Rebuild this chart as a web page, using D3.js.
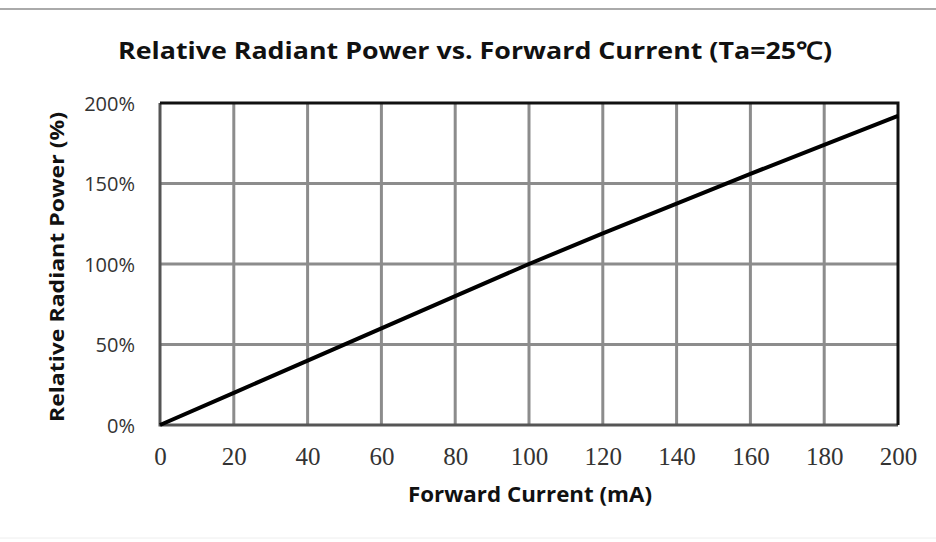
<!DOCTYPE html>
<html>
<head>
<meta charset="utf-8">
<script src="https://cdn.jsdelivr.net/npm/d3@7"></script>
<style>
  body { margin: 0; background: #fff; }
  svg { display: block; }
</style>
</head>
<body>
<div id="chart"></div>
<script>
// values
const currents = [0, 20, 40, 60, 80, 100, 120, 140, 160, 180, 200];
const power = [0, 20, 40, 60, 80, 100, 119, 137.5, 156, 174, 192];
const xTicks = [0, 20, 40, 60, 80, 100, 120, 140, 160, 180, 200];
const yTicks = [0, 50, 100, 150, 200];

const width = 936, height = 542;
const margin = {top: 103, right: 38, bottom: 117, left: 160};

const svg = d3.select('#chart').append('svg')
  .attr('width', width)
  .attr('height', height);

// thin separator lines at top and bottom of the picture
svg.append('line')
  .attr('x1', 0).attr('x2', width).attr('y1', 9).attr('y2', 9)
  .attr('stroke', '#aaa').attr('stroke-width', 2);
svg.append('line')
  .attr('x1', 0).attr('x2', width).attr('y1', 538).attr('y2', 538)
  .attr('stroke', '#eee').attr('stroke-width', 1);

const x = d3.scaleLinear().domain([0, 200]).range([margin.left, width - margin.right]);
const y = d3.scaleLinear().domain([0, 200]).range([height - margin.bottom, margin.top]);

// grid
const grid = svg.append('g').attr('stroke', '#8c8c8c').attr('stroke-width', 3);
grid.selectAll('.vx').data(xTicks.slice(1, -1)).join('line')
  .attr('x1', d => x(d)).attr('x2', d => x(d))
  .attr('y1', y(0)).attr('y2', y(200));
grid.selectAll('.hy').data(yTicks.slice(1, -1)).join('line')
  .attr('x1', x(0)).attr('x2', x(200))
  .attr('y1', d => y(d)).attr('y2', d => y(d));

// frame: left/bottom dark grey, top/right black
svg.append('path')
  .attr('d', `M${x(0)},${y(200)}V${y(0)}H${x(200)}`)
  .attr('fill', 'none').attr('stroke', '#555').attr('stroke-width', 3);
svg.append('path')
  .attr('d', `M${x(0)},${y(200)}H${x(200)}V${y(0)}`)
  .attr('fill', 'none').attr('stroke', '#111').attr('stroke-width', 3);

// axes (labels only)
const xAxis = svg.append('g')
  .attr('transform', `translate(0,${y(0)})`)
  .call(d3.axisBottom(x).tickValues(xTicks).tickSize(0).tickPadding(22));
xAxis.select('.domain').remove();
xAxis.selectAll('text')
  .attr('font-family', '"Liberation Serif", serif')
  .attr('font-size', 25)
  .attr('fill', '#333');

const yAxis = svg.append('g')
  .attr('transform', `translate(${x(0)},0)`)
  .call(d3.axisLeft(y).tickValues(yTicks).tickSize(0).tickPadding(25).tickFormat(d => d + '%'));
yAxis.select('.domain').remove();
yAxis.selectAll('text')
  .attr('font-family', '"Open Sans", sans-serif')
  .attr('font-size', 20)
  .attr('dy', '0.36em')
  .attr('fill', '#333');

// data line
const line = d3.line().x((d, i) => x(currents[i])).y(d => y(d));
svg.append('path')
  .datum(power)
  .attr('d', line)
  .attr('fill', 'none')
  .attr('stroke', '#000')
  .attr('stroke-width', 4);

// titles
svg.append('text')
  .attr('x', 475).attr('y', 59)
  .attr('text-anchor', 'middle')
  .attr('font-family', '"Open Sans", sans-serif')
  .attr('font-weight', 'bold')
  .attr('font-size', 24)
  .attr('textLength', 714)
  .attr('lengthAdjust', 'spacingAndGlyphs')
  .attr('fill', '#111')
  .text('Relative Radiant  Power vs. Forward Current (Ta=25℃)');

svg.append('text')
  .attr('x', 530).attr('y', 502)
  .attr('text-anchor', 'middle')
  .attr('font-family', '"Open Sans", sans-serif')
  .attr('font-weight', 'bold')
  .attr('font-size', 21)
  .attr('textLength', 244)
  .attr('lengthAdjust', 'spacingAndGlyphs')
  .attr('fill', '#111')
  .text('Forward Current (mA)');

svg.append('text')
  .attr('transform', `translate(64,${(y(0) + y(200)) / 2 + 3}) rotate(-90)`)
  .attr('text-anchor', 'middle')
  .attr('font-family', '"Open Sans", sans-serif')
  .attr('font-weight', 'bold')
  .attr('font-size', 20)
  .attr('textLength', 310)
  .attr('lengthAdjust', 'spacingAndGlyphs')
  .attr('fill', '#111')
  .text('Relative Radiant  Power (%)');
</script>
</body>
</html>
